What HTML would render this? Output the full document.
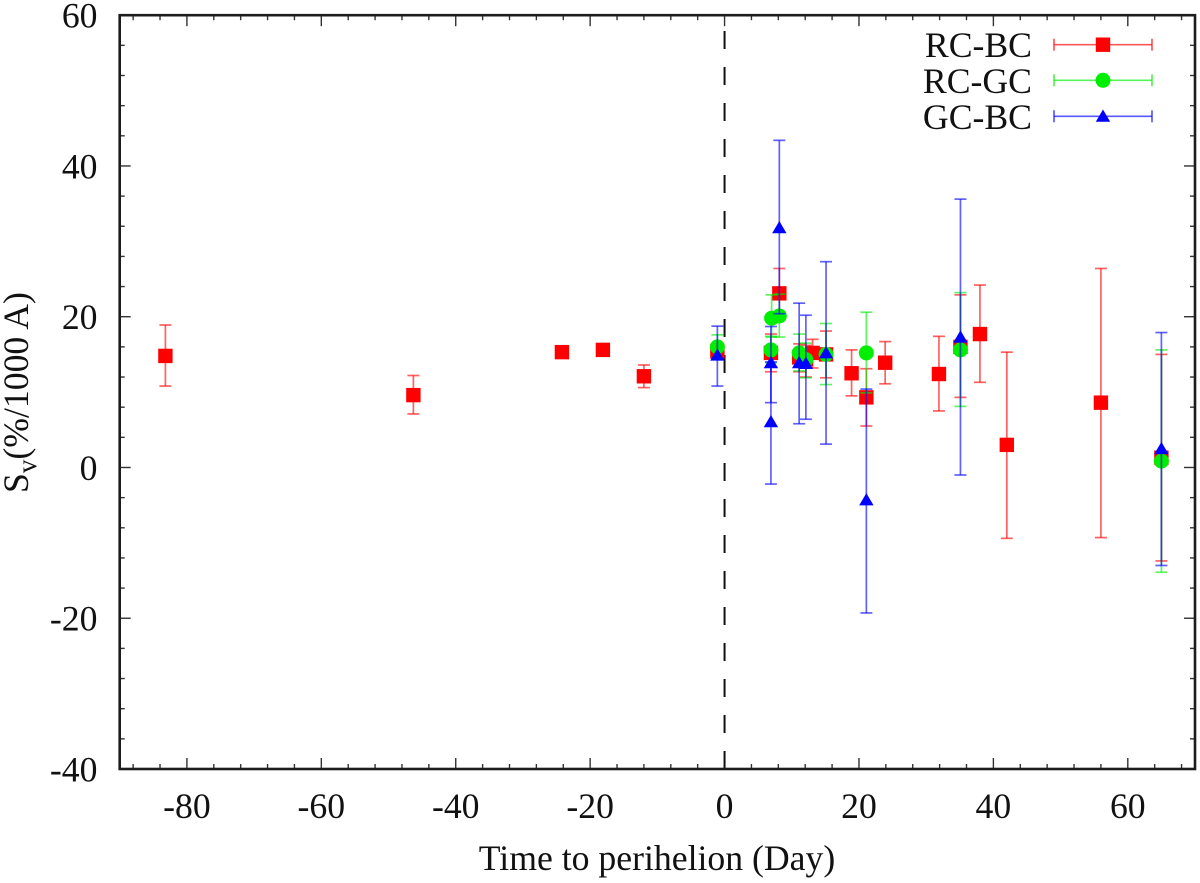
<!DOCTYPE html>
<html lang="en">
<head>
<meta charset="utf-8">
<title>Sv versus time to perihelion</title>
<style>
html,body{margin:0;padding:0;background:#fff;width:1200px;height:883px;overflow:hidden}
svg{display:block;font-family:"Liberation Serif",serif;fill:#111}
text{font-size:35.7px}
</style>
</head>
<body>
<svg id="chart" width="1200" height="883" viewBox="0 0 1200 883" xmlns="http://www.w3.org/2000/svg">
  <rect x="0" y="0" width="1200" height="883" fill="#fff"/>
  <g id="ticks"></g>
  <g id="tick-labels"></g>
  <line id="perihelion" stroke="#111" stroke-width="2" stroke-dasharray="18 18"/>
  <g id="series"></g>
  <rect id="frame" fill="none" stroke="#1c1c1c" stroke-width="2.6"/>
  <text x="657" y="870" text-anchor="middle">Time to perihelion (Day)</text>
  <text transform="translate(28,493) rotate(-90)">S<tspan dy="8" style="font-size:27px">v</tspan><tspan dy="-8">(%/1000 A)</tspan></text>
  <g>
    <text x="1032" y="57" text-anchor="end">RC-BC</text>
    <text x="1032" y="93" text-anchor="end">RC-GC</text>
    <text x="1032" y="129" text-anchor="end">GC-BC</text>
    <g id="legend-keys"></g>
  </g>
</svg>
<script>
// Chart data
const xTickLabels = [-80, -60, -40, -20, 0, 20, 40, 60];
const yTickLabels = [-40, -20, 0, 20, 40, 60];

const rcBcX  = [-83.2, -46.3, -24.2, -18.1, -12, -1.07, 6.9, 8.15, 11.1, 12.1, 13.1, 15.1, 18.9, 21.1, 23.9, 31.9, 35.1, 38, 42, 56, 65];
const rcBcY  = [14.8, 9.6, 15.3, 15.6, 12.1, 15.4, 15.2, 23.1, 14.6, 14.4, 15.2, 15, 12.5, 9.3, 13.9, 12.4, 16, 17.7, 3, 8.6, 1.3];
const rcBcLo = [10.8, 7.1, 14.6, 14.9, 10.6, 14.4, 12.7, 19.8, 12.7, 12, 13.2, 11.9, 9.5, 5.5, 11.1, 7.5, 9.3, 11.3, -9.4, -9.3, -12.4];
const rcBcHi = [18.9, 12.2, 16, 16.3, 13.6, 16.4, 17.7, 26.4, 16.4, 16.2, 17, 18.1, 15.6, 13.1, 16.7, 17.4, 22.9, 24.2, 15.3, 26.4, 15];

const rcGcX  = [-1.07, 6.9, 7, 8.15, 11.1, 12.1, 15.1, 21.1, 35.1, 65];
const rcGcY  = [16, 15.6, 19.8, 20.1, 15.2, 14.3, 15, 15.2, 15.6, 0.85];
const rcGcLo = [14.4, 13.9, 17.3, 17.3, 12.8, 11.9, 11, 9.9, 8.1, -13.9];
const rcGcHi = [17.6, 17.4, 22.9, 23, 17.7, 16.5, 19.1, 20.6, 23.2, 15.6];

const gcBcX  = [-1.07, 6.9, 6.9, 8.15, 11.1, 12.1, 15.1, 21.1, 35.1, 65];
const gcBcY  = [14.9, 13.9, 6.06, 31.8, 13.9, 13.8, 15.2, -4.3, 17.3, 2.5];
const gcBcLo = [10.8, 8.6, -2.2, 20.4, 5.8, 6.4, 3.1, -19.3, -1, -13];
const gcBcHi = [18.75, 18.7, 14, 43.4, 21.8, 20.2, 27.3, 10.4, 35.6, 17.9];

const xDomain = [-90, 70];
const yDomain = [-40, 60];
const xMinorStep = 4;
const yMinorStep = 4;

// Layout
const plotLeft = 119.7, plotRight = 1195, plotTop = 15.2, plotBottom = 769;
const SVGNS = 'http://www.w3.org/2000/svg';
const RED = '#ff0000', GREEN = '#00ee00', BLUE = '#0000ff';

function xScale(v) { return plotLeft + (v - xDomain[0]) / (xDomain[1] - xDomain[0]) * (plotRight - plotLeft); }
function yScale(v) { return plotBottom - (v - yDomain[0]) / (yDomain[1] - yDomain[0]) * (plotBottom - plotTop); }

function make(tag, attrs, parent) {
  const el = document.createElementNS(SVGNS, tag);
  for (const k in attrs) el.setAttribute(k, attrs[k]);
  parent.appendChild(el);
  return el;
}

const frame = document.getElementById('frame');
frame.setAttribute('x', plotLeft);
frame.setAttribute('y', plotTop);
frame.setAttribute('width', plotRight - plotLeft);
frame.setAttribute('height', plotBottom - plotTop);

const dash = document.getElementById('perihelion');
dash.setAttribute('x1', xScale(0));
dash.setAttribute('x2', xScale(0));
dash.setAttribute('y1', plotBottom);
dash.setAttribute('y2', plotTop);

// Ticks
const ticksG = document.getElementById('ticks');
const labelsG = document.getElementById('tick-labels');
const tickStroke = { stroke: '#333', 'stroke-width': 1.4 };

for (let v = xDomain[0] + 2; v <= xDomain[1]; v += xMinorStep) {
  const major = xTickLabels.includes(v);
  const len = major ? 11 : 5;
  const px = xScale(v);
  const b = make('line', { x1: px, x2: px, y1: plotBottom, y2: plotBottom - len, ...tickStroke }, ticksG);
  
  
  const t = make('line', { x1: px, x2: px, y1: plotTop, y2: plotTop + len, ...tickStroke }, ticksG);
  
  
}
for (let v = yDomain[0]; v <= yDomain[1]; v += yMinorStep) {
  const major = yTickLabels.includes(v);
  const len = major ? 11 : 5;
  const py = yScale(v);
  const l = make('line', { x1: plotLeft, x2: plotLeft + len, y1: py, y2: py, ...tickStroke }, ticksG);
  
  
  const r = make('line', { x1: plotRight, x2: plotRight - len, y1: py, y2: py, ...tickStroke }, ticksG);
  
  
}
xTickLabels.forEach(function (v) {
  const t = make('text', { x: xScale(v), y: 818, 'text-anchor': 'middle' }, labelsG);
  
  
  t.textContent = String(v);
});
yTickLabels.forEach(function (v) {
  const t = make('text', { x: 97.5, y: yScale(v) + 12.5, 'text-anchor': 'end' }, labelsG);
  
  
  t.textContent = String(v);
});

// Markers
function drawMarker(kind, px, py, color, parent) {
  let m;
  if (kind === 'square') {
    m = make('rect', { x: px - 7.2, y: py - 7.2, width: 14.4, height: 14.4, fill: color }, parent);
  } else if (kind === 'circle') {
    m = make('circle', { cx: px, cy: py, r: 7.5, fill: color }, parent);
  } else {
    m = make('polygon', { points: (px - 7.2) + ',' + (py + 5.5) + ' ' + (px + 7.2) + ',' + (py + 5.5) + ' ' + px + ',' + (py - 6.8), fill: color }, parent);
  }
  
  
}

function drawSeries(name, kind, color, xs, ys, los, his) {
  const root = document.getElementById('series');
  const g = make('g', {}, root);
  
  
  const bars = make('g', { stroke: color, 'stroke-width': 1.7, 'stroke-opacity': 0.62 }, g);
  
  
  xs.forEach(function (x, i) {
    const px = xScale(x);
    const v = make('line', { x1: px, x2: px, y1: yScale(los[i]), y2: yScale(his[i]) }, bars);
    
    
    [los[i], his[i]].forEach(function (c) {
      const cap = make('line', { x1: px - 6, x2: px + 6, y1: yScale(c), y2: yScale(c) }, bars);
      
      
    });
  });
  xs.forEach(function (x, i) {
    drawMarker(kind, xScale(x), yScale(ys[i]), color, g);
  });
}

drawSeries('rc-bc', 'square', RED, rcBcX, rcBcY, rcBcLo, rcBcHi);
drawSeries('rc-gc', 'circle', GREEN, rcGcX, rcGcY, rcGcLo, rcGcHi);
drawSeries('gc-bc', 'triangle', BLUE, gcBcX, gcBcY, gcBcLo, gcBcHi);

// Legend keys
const legendG = document.getElementById('legend-keys');
function legendKey(name, kind, color, py) {
  const g = make('g', { stroke: color, 'stroke-width': 1.7, 'stroke-opacity': 0.65 }, legendG);
  
  
  const h = make('line', { x1: 1054, x2: 1152, y1: py, y2: py }, g);
  
  
  const c1 = make('line', { x1: 1054, x2: 1054, y1: py - 6, y2: py + 6 }, g);
  
  
  const c2 = make('line', { x1: 1152, x2: 1152, y1: py - 6, y2: py + 6 }, g);
  
  
  drawMarker(kind, 1103, py, color, legendG);
}
legendKey('rc-bc', 'square', RED, 44.7);
legendKey('rc-gc', 'circle', GREEN, 80.3);
legendKey('gc-bc', 'triangle', BLUE, 116.3);
</script>
</body>
</html>
